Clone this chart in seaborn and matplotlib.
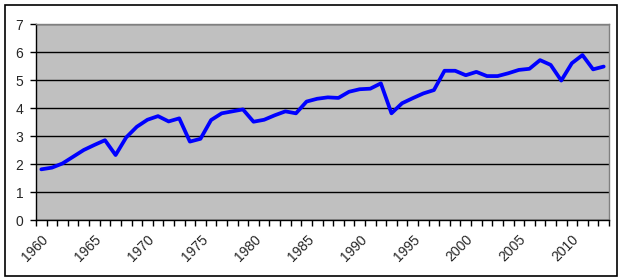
import matplotlib
matplotlib.use("Agg")
import matplotlib.pyplot as plt
import seaborn as sns
import numpy as np
from matplotlib.patches import Rectangle

# values, one per year 1960-2013
years = list(range(1960, 2014))
values = [1.81, 1.87, 2.02, 2.26, 2.50, 2.68, 2.85, 2.32, 2.95, 3.33,
          3.58, 3.71, 3.52, 3.63, 2.80, 2.90, 3.57, 3.81, 3.88, 3.95,
          3.51, 3.58, 3.74, 3.88, 3.81, 4.23, 4.33, 4.38, 4.36, 4.58,
          4.67, 4.69, 4.88, 3.81, 4.17, 4.35, 4.52, 4.64, 5.33, 5.33,
          5.17, 5.29, 5.14, 5.14, 5.24, 5.36, 5.40, 5.71, 5.54, 4.98,
          5.60, 5.89, 5.38, 5.48]
label_years = list(range(1960, 2011, 5))

sns.set_style("white")
plt.rcParams['font.family'] = ['Liberation Sans', 'DejaVu Sans']

fig = plt.figure(figsize=(6.23, 2.80), dpi=100)
ax = fig.add_axes([36 / 623, 1 - 220 / 280, (609 - 36) / 623, (220 - 24) / 280])
ax.set_facecolor('#C0C0C0')

sns.lineplot(x=years, y=values, ax=ax, color='#0000FF', lw=2.7, zorder=3)

ax.set_xlim(1959.5, 2013.5)
ax.set_ylim(0, 7)
ax.set_yticks(range(0, 8))
ax.yaxis.grid(True, color='black', lw=1.0)
ax.set_axisbelow(True)

ax.set_xticks(label_years)
ax.set_xticklabels([str(y) for y in label_years], rotation=45, ha='right',
                   rotation_mode='anchor', fontsize=10)
ax.set_xticks(np.arange(1959.5, 2014, 1.0), minor=True)
ax.tick_params(axis='x', which='major', length=0, pad=9)
ax.tick_params(axis='x', which='minor', length=4, width=1, color='black', direction='out')
ax.tick_params(axis='y', length=4, width=1, color='black', direction='out', pad=5, labelsize=10)
ax.tick_params(bottom=True, left=True, which='both')
ax.set_xlabel('')
ax.set_ylabel('')

for s in ['top', 'right']:
    ax.spines[s].set_color('#808080')
    ax.spines[s].set_linewidth(1)
for s in ['left', 'bottom']:
    ax.spines[s].set_color('black')
    ax.spines[s].set_linewidth(1)

# outer chart border
fig.patches.append(Rectangle((4.5 / 623, 1 - 275.5 / 280), 612 / 623, 271 / 280,
                             transform=fig.transFigure, fill=False,
                             edgecolor='black', lw=1.2))

fig.savefig('out.png', dpi=100)
